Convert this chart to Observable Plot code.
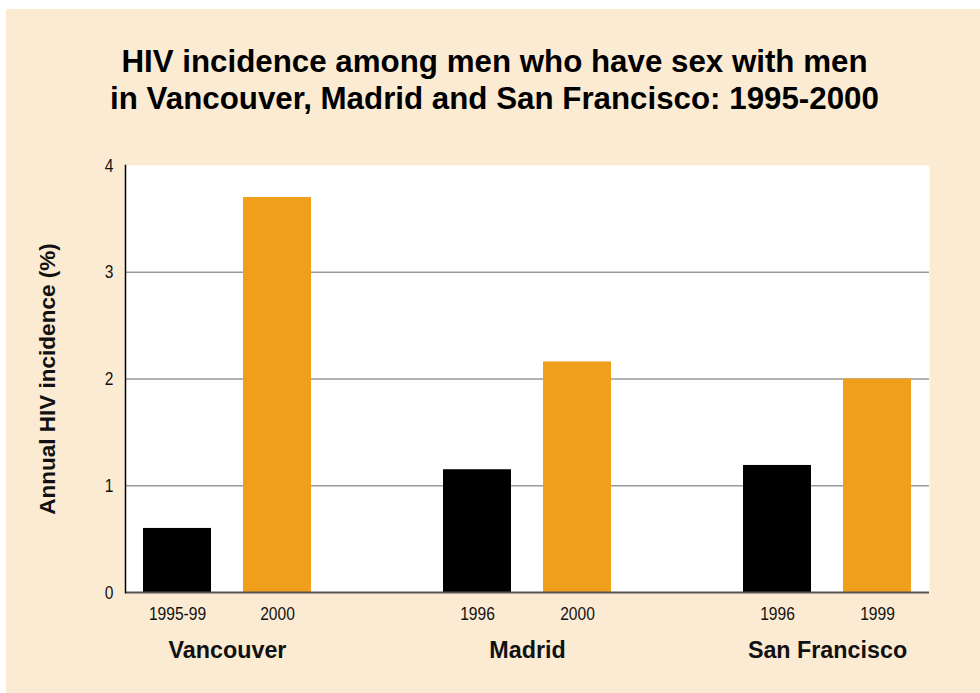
<!DOCTYPE html>
<html>
<head>
<meta charset="utf-8">
<script src="https://cdn.jsdelivr.net/npm/d3@7"></script>
<script src="https://cdn.jsdelivr.net/npm/@observablehq/plot@0.6"></script>
<style>
  html, body { margin: 0; padding: 0; background: #ffffff; }
  #panel {
    position: absolute; left: 6px; top: 9px; width: 974px; height: 684px;
    background: #FBEBD3; overflow: hidden;
  }
  #title {
    margin: 34px 0 0 0; height: 74px;
    font-family: "Liberation Sans", Arial, sans-serif; font-weight: bold;
    font-size: 31.3px; line-height: 37px; text-align: center; color: #000;
    padding-left: 3px;
  }
  #chart svg { display: block; }
</style>
</head>
<body>
<div id="panel">
  <div id="title">HIV incidence among men who have sex with men<br>in Vancouver, Madrid and San Francisco: 1995-2000</div>
  <div id="chart"></div>
</div>
<script>
// ---- data ----
const cities = ["Vancouver", "Madrid", "San Francisco"];
const earlyYears = ["1995-99", "1996", "1996"];
const lateYears = ["2000", "2000", "1999"];
const earlyValues = [0.6, 1.15, 1.19];
const lateValues = [3.7, 2.16, 2.0];
const yTicks = [0, 1, 2, 3, 4];
const gridValues = [1, 2, 3];

// ---- derived tables ----
const earlyRows = cities.map((c, i) => ({key: c + " " + earlyYears[i] + " a", label: earlyYears[i], city: c, value: earlyValues[i]}));
const lateRows = cities.map((c, i) => ({key: c + " " + lateYears[i] + " b", label: lateYears[i], city: c, value: lateValues[i]}));
const domain = [];
cities.forEach((c, i) => {
  if (i > 0) domain.push("gap" + i);
  domain.push(earlyRows[i].key, lateRows[i].key);
});
const tickKeys = domain.filter(k => !k.startsWith("gap"));
const labelOf = new Map([...earlyRows, ...lateRows].map(r => [r.key, r.label]));

const regular = '"Liberation Sans", Arial, sans-serif';
const bold = '"Liberation Sans", Arial, sans-serif';

const base = {
  width: 974,
  height: 576,
  marginTop: 48,
  marginBottom: 101,
  marginLeft: 119,
  marginRight: 51,
  style: {background: "transparent", overflow: "visible", fontFamily: regular},
  x: {type: "band", domain, paddingInner: 0.32, paddingOuter: 0.16, axis: null, label: null},
  y: {domain: [0, 4], axis: null, label: null}
};

function marks(half) {
  return [
    Plot.frame({fill: "white", stroke: null}),
    Plot.ruleY(gridValues, {stroke: "#9a9a9a", strokeWidth: 1.5}),
    Plot.barY(earlyRows, {x: "key", y: "value", fill: "#000000"}),
    Plot.barY(lateRows, {x: "key", y: "value", fill: "#F09F1C"}),
    Plot.ruleY([0], {stroke: "#555555", strokeWidth: 2}),
    Plot.frame({anchor: "left", stroke: "#000", strokeWidth: 1.5}),
    Plot.axisY({ticks: yTicks, tickSize: 0, tickPadding: 12, fontSize: 19, fill: "#111", label: null,
      tickFormat: d => String(d)}),
    Plot.axisX({ticks: tickKeys, tickSize: 0, tickPadding: 14, fontSize: 19, fill: "#111", label: null,
      tickFormat: k => labelOf.get(k) || ""}),
    Plot.text(earlyRows, {x: "key", text: "city", frameAnchor: "bottom", dx: half, dy: 58,
      lineAnchor: "middle", fontSize: 23.3, fontWeight: "bold", fontFamily: bold, fill: "#111"}),
    Plot.text(["Annual HIV incidence (%)"], {frameAnchor: "left", rotate: -90, dx: -78,
      textAnchor: "middle", lineAnchor: "middle", fontSize: 22.5, fontWeight: "bold", fontFamily: bold, fill: "#111"})
  ];
}

// first pass: read the band step from Plot's own x scale
const probe = Plot.plot({...base, marks: [Plot.barY(earlyRows, {x: "key", y: "value"})]});
const half = probe.scale("x").step / 2;

const chart = Plot.plot({...base, marks: marks(half)});
document.getElementById("chart").appendChild(chart);

// tick labels in the reference use a narrow face: compress glyphs horizontally
d3.select(chart).selectAll("g[aria-label^='x-axis tick label'] text, g[aria-label^='y-axis tick label'] text")
  .each(function () {
    const w = this.getComputedTextLength();
    if (w > 0) {
      this.setAttribute("textLength", (w * 0.82).toFixed(2));
      this.setAttribute("lengthAdjust", "spacingAndGlyphs");
    }
  });
</script>
</body>
</html>
